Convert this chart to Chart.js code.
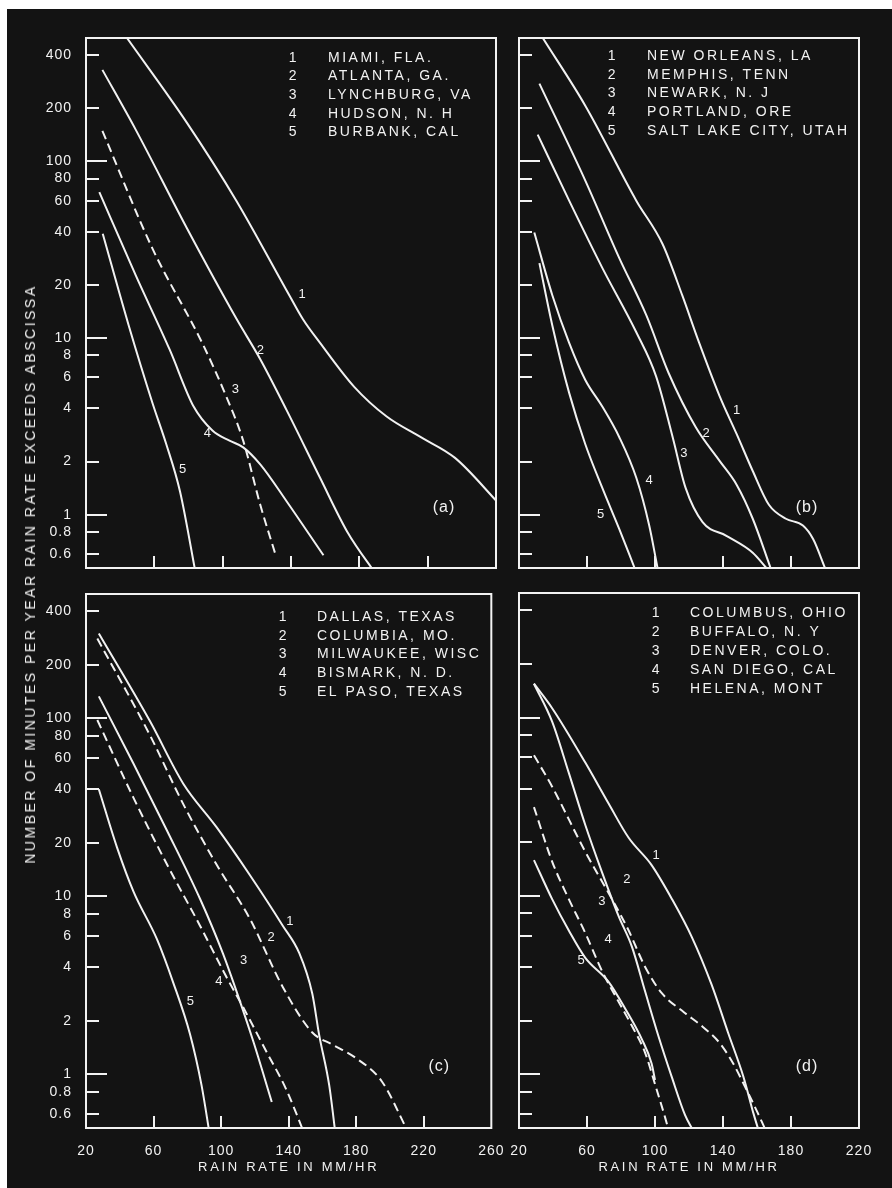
<!DOCTYPE html>
<html>
<head>
<meta charset="utf-8">
<script src="https://cdn.jsdelivr.net/npm/chart.js@4.4.0/dist/chart.umd.min.js"></script>
<style>
  html, body { margin: 0; padding: 0; background: #fff; }
  #page { position: relative; width: 892px; height: 1188px; overflow: hidden; }
  #sheet { position: absolute; left: 7px; top: 9px; right: 0; bottom: 0; background: #131313; }
  canvas { position: absolute; }
  #ytitle {
    position: absolute; left: 30px; top: 574px;
    transform: translate(-50%, -50%) rotate(-90deg);
    color: #efefef; font: 14px 'Liberation Sans', Arial, sans-serif;
    letter-spacing: 2.5px; white-space: nowrap;
  }
</style>
</head>
<body>
<div id="page">
  <div id="sheet"></div>
  <canvas id="pa" width="510" height="590" style="left:0;top:0"></canvas>
  <canvas id="pb" width="440" height="590" style="left:440px;top:0"></canvas>
  <canvas id="pc" width="510" height="628" style="left:0;top:560px"></canvas>
  <canvas id="pd" width="440" height="628" style="left:440px;top:560px"></canvas>
  <div id="ytitle">NUMBER OF MINUTES PER YEAR RAIN RATE EXCEEDS ABSCISSA</div>
</div>
<script>
// tick values (same for all four panels)
const yTicks = [0.6, 0.8, 1, 2, 4, 6, 8, 10, 20, 40, 60, 80, 100, 200, 400];
const yMajor = [1, 10, 100];
const xTicksWide = [20, 60, 100, 140, 180, 220, 260];
const xTicksNarrow = [20, 60, 100, 140, 180, 220];

// (a)
const citiesA = ['MIAMI, FLA.', 'ATLANTA, GA.', 'LYNCHBURG, VA', 'HUDSON, N. H', 'BURBANK, CAL'];
const miamiRate = [44, 79, 108, 139, 147, 157, 177, 196, 216, 236, 262];
const miamiMin = [500, 166, 60, 17.5, 12.8, 9.4, 5.3, 3.6, 2.75, 2.1, 1.15];
const atlantaRate = [29.6, 49, 79, 108, 122, 137.5, 157, 173, 190.5];
const atlantaMin = [330, 152, 42, 12.9, 7.6, 3.9, 1.62, 0.8, 0.45];
const lynchburgRate = [29.6, 59, 88, 102, 112, 122, 130.6];
const lynchburgMin = [149, 32, 9.4, 4.7, 2.63, 1.14, 0.61];
const hudsonRate = [27.8, 49, 69, 83, 94, 104, 112, 122, 137.5, 159];
const hudsonMin = [67, 22.8, 8.6, 4.1, 3.0, 2.63, 2.41, 1.93, 1.19, 0.59];
const burbankRate = [29.8, 45, 59, 67, 75, 84.5];
const burbankMin = [39, 11.8, 4.27, 2.51, 1.36, 0.45];

// (b)
const citiesB = ['NEW ORLEANS, LA', 'MEMPHIS, TENN', 'NEWARK, N. J', 'PORTLAND, ORE', 'SALT LAKE CITY, UTAH'];
const newOrleansRate = [34, 59, 89, 104.5, 116, 126, 138, 148, 157.5, 167, 177, 187, 193, 200];
const newOrleansMin = [500, 207, 60, 34, 17.5, 9.4, 4.7, 2.87, 1.77, 1.14, 0.95, 0.87, 0.73, 0.5];
const memphisRate = [32, 59, 79, 95, 108, 124, 138, 148, 157.5, 168];
const memphisMin = [276, 78, 28.4, 13.4, 6.35, 3.13, 2.02, 1.48, 0.95, 0.5];
const newarkRate = [31, 49.5, 69, 89, 100.6, 110.4, 118, 128, 142, 157.5, 165.5];
const newarkMin = [142, 60, 25, 10.8, 6.1, 2.75, 1.42, 0.91, 0.76, 0.61, 0.5];
const portlandRate = [29, 39.6, 49.5, 59, 69, 79, 89, 96.6, 101.5];
const portlandMin = [39.6, 17.5, 9.4, 5.8, 4.1, 2.75, 1.62, 0.87, 0.5];
const saltLakeRate = [32, 39.6, 49.5, 59, 69, 79, 88];
const saltLakeMin = [26.6, 11.8, 4.9, 2.51, 1.42, 0.83, 0.5];

// (c)
const citiesC = ['DALLAS, TEXAS', 'COLUMBIA, MO.', 'MILWAUKEE, WISC', 'BISMARK, N. D.', 'EL PASO, TEXAS'];
const dallasRate = [27.6, 58, 77.6, 97.3, 117, 136.5, 146.3, 154, 158, 164, 168];
const dallasMin = [300, 96, 43, 24.5, 13.2, 6.85, 4.8, 2.84, 1.68, 0.87, 0.44];
const columbiaRate = [26.7, 58, 77.6, 97.3, 117, 136.5, 154, 166, 179.6, 195.3, 210.5];
const columbiaMin = [281, 80, 33, 15.1, 7.5, 3.1, 1.72, 1.47, 1.24, 0.91, 0.48];
const milwaukeeRate = [27.6, 48, 68, 87.5, 101, 111, 119, 130];
const milwaukeeMin = [133, 56, 23.4, 9.7, 4.8, 2.6, 1.54, 0.7];
const bismarkRate = [26.7, 48, 68, 87.5, 103, 113, 126.7, 138.4, 149.5];
const bismarkMin = [98, 36, 15.1, 6.85, 3.55, 2.39, 1.35, 0.83, 0.46];
const elPasoRate = [27.6, 38.4, 48.2, 62, 71.8, 81.6, 88.4, 93.4];
const elPasoMin = [40, 18.8, 10.6, 5.75, 3.25, 1.68, 0.87, 0.45];

// (d)
const citiesD = ['COLUMBUS, OHIO', 'BUFFALO, N. Y', 'DENVER, COLO.', 'SAN DIEGO, CAL', 'HELENA, MONT'];
const columbusRate = [28.8, 39.5, 59, 72.7, 84.5, 98, 110, 121.6, 133.3, 143, 152, 158, 160.5];
const columbusMin = [155, 113, 56, 33, 21.2, 14.9, 9.6, 5.9, 3.18, 1.71, 0.97, 0.6, 0.5];
const buffaloRate = [28.8, 39.5, 49.3, 59, 68.8, 78.6, 86.4, 94.2, 102, 109.8, 117.7, 121.6];
const buffaloMin = [155, 95, 49, 25, 13.6, 7.7, 5.2, 2.91, 1.64, 0.97, 0.59, 0.5];
const denverRate = [28.8, 39.5, 59, 74.7, 84.5, 94.2, 104, 117, 128, 138, 146, 153, 160, 164.5];
const denverMin = [61.5, 41, 17.7, 9.6, 6.4, 4.0, 2.85, 2.23, 1.85, 1.5, 1.15, 0.85, 0.62, 0.5];
const sanDiegoRate = [28.8, 39.5, 49.3, 59, 68.8, 78.6, 86.4, 94.2, 100, 106, 109];
const sanDiegoMin = [31.5, 15.6, 9.6, 6.2, 3.8, 2.55, 1.87, 1.32, 0.88, 0.57, 0.45];
const helenaRate = [28.8, 39.5, 49.3, 59, 72.7, 82.5, 92.3, 98, 100];
const helenaMin = [15.9, 9.6, 6.4, 4.5, 3.3, 2.33, 1.57, 1.15, 0.93];

// curve numbers, placed in data units
const marksA = [[146.5, 17.6, '1'], [122, 8.5, '2'], [107.5, 5.1, '3'], [91, 2.9, '4'], [76.6, 1.8, '5']];
const marksB = [[148, 3.9, '1'], [130, 2.9, '2'], [117, 2.24, '3'], [96.5, 1.56, '4'], [68, 1.0, '5']];
const marksC = [[140.7, 7.2, '1'], [129.6, 5.9, '2'], [113.3, 4.36, '3'], [98.7, 3.32, '4'], [81.8, 2.57, '5']];
const marksD = [[100.6, 16.9, '1'], [83.5, 12.4, '2'], [68.8, 9.3, '3'], [72.4, 5.7, '4'], [56.5, 4.36, '5']];

const FONT = "'Liberation Sans', Arial, sans-serif";
const INK = '#f2f2f2';

function line(rate, minutes, dashed) {
  return {
    data: rate.map((r, i) => ({x: r, y: minutes[i]})),
    borderColor: INK,
    borderWidth: 2,
    borderDash: dashed ? [9, 5] : [],
    pointRadius: 0,
    fill: false,
    cubicInterpolationMode: 'monotone'
  };
}

const panelDecor = {
  id: 'panelDecor',
  beforeDraw(chart) {
    chart.ctx.letterSpacing = '1px';
  },
  afterDraw(chart, args, o) {
    const {ctx, chartArea: a, scales: {x, y}} = chart;
    ctx.save();
    ctx.strokeStyle = INK;
    ctx.lineWidth = 2;
    ctx.setLineDash([]);
    ctx.strokeRect(a.left, a.top, a.right - a.left, a.bottom - a.top);

    // inward tick marks
    ctx.beginPath();
    yTicks.forEach(v => {
      const py = Math.round(y.getPixelForValue(v));
      const len = yMajor.includes(v) ? 21 : 13;
      ctx.moveTo(a.left, py);
      ctx.lineTo(a.left + len, py);
    });
    x.ticks.forEach(t => {
      if (t.value > x.min && t.value < x.max) {
        const px = Math.round(x.getPixelForValue(t.value));
        ctx.moveTo(px, a.bottom);
        ctx.lineTo(px, a.bottom - 12);
      }
    });
    ctx.stroke();

    ctx.fillStyle = INK;
    ctx.textBaseline = 'middle';

    // key
    ctx.font = '14px ' + FONT;
    ctx.letterSpacing = '2.5px';
    o.names.forEach((name, i) => {
      const py = a.top + o.keyTop + i * o.keyStep;
      ctx.textAlign = 'center';
      ctx.fillText(String(i + 1), a.left + o.numX, py);
      ctx.textAlign = 'left';
      ctx.fillText(name, a.left + o.nameX, py);
    });

    // curve numbers
    ctx.font = '13px ' + FONT;
    ctx.letterSpacing = '0px';
    ctx.textAlign = 'center';
    o.marks.forEach(([r, v, s]) => {
      ctx.fillText(s, x.getPixelForValue(r), y.getPixelForValue(v));
    });

    // panel tag
    ctx.font = '16px ' + FONT;
    ctx.letterSpacing = '1px';
    ctx.fillText(o.tag, a.right - 52, y.getPixelForValue(1.1));

    // x axis title
    if (o.xTitle) {
      ctx.font = '13px ' + FONT;
      ctx.letterSpacing = '2.7px';
      ctx.fillText(o.xTitle, (a.left + a.right) / 2, a.bottom + 39);
    }
    ctx.restore();
  }
};

function makePanel(id, cfg) {
  const ctx = document.getElementById(id).getContext('2d');
  return new Chart(ctx, {
    type: 'line',
    data: { datasets: cfg.series },
    plugins: [panelDecor],
    options: {
      responsive: false,
      animation: false,
      devicePixelRatio: 1,
      layout: { padding: { top: cfg.padTop, right: cfg.padRight, left: 0, bottom: 0 } },
      plugins: {
        legend: { display: false },
        tooltip: { enabled: false },
        panelDecor: {
          names: cfg.names, marks: cfg.marks, tag: cfg.tag, xTitle: cfg.xTitle,
          numX: cfg.numX, nameX: cfg.nameX, keyTop: cfg.keyTop, keyStep: cfg.keyStep
        }
      },
      scales: {
        x: {
          type: 'linear',
          min: 20,
          max: cfg.xTicks[cfg.xTicks.length - 1],
          afterBuildTicks: s => { s.ticks = cfg.xTicks.map(v => ({value: v})); },
          afterFit: s => { s.height = cfg.xHeight; },
          grid: { display: false },
          border: { display: false },
          ticks: {
            display: cfg.xLabels, color: INK, padding: 7, maxRotation: 0, autoSkip: false,
            font: { size: 14, family: FONT },
            callback: v => String(v)
          }
        },
        y: {
          type: 'logarithmic',
          min: 0.5,
          max: 500,
          afterBuildTicks: s => { s.ticks = yTicks.map(v => ({value: v})); },
          afterFit: s => { s.width = cfg.yWidth; },
          grid: { display: false },
          border: { display: false },
          ticks: {
            display: cfg.yLabels, color: INK, padding: 6, autoSkip: false,
            font: { size: 14, family: FONT },
            callback: v => String(v)
          }
        }
      }
    }
  });
}

makePanel('pa', {
  series: [
    line(miamiRate, miamiMin), line(atlantaRate, atlantaMin), line(lynchburgRate, lynchburgMin, true),
    line(hudsonRate, hudsonMin), line(burbankRate, burbankMin)
  ],
  names: citiesA, marks: marksA, tag: '(a)',
  xTicks: xTicksWide, xLabels: false, yLabels: true,
  padTop: 38, padRight: 14, yWidth: 86, xHeight: 22,
  numX: 208, nameX: 242, keyTop: 20, keyStep: 18.6
});

makePanel('pb', {
  series: [
    line(newOrleansRate, newOrleansMin), line(memphisRate, memphisMin), line(newarkRate, newarkMin),
    line(portlandRate, portlandMin), line(saltLakeRate, saltLakeMin)
  ],
  names: citiesB, marks: marksB, tag: '(b)',
  xTicks: xTicksNarrow, xLabels: false, yLabels: false,
  padTop: 38, padRight: 21, yWidth: 79, xHeight: 22,
  numX: 94, nameX: 128, keyTop: 18, keyStep: 18.7
});

makePanel('pc', {
  series: [
    line(dallasRate, dallasMin), line(columbiaRate, columbiaMin, true), line(milwaukeeRate, milwaukeeMin),
    line(bismarkRate, bismarkMin, true), line(elPasoRate, elPasoMin)
  ],
  names: citiesC, marks: marksC, tag: '(c)', xTitle: 'RAIN RATE IN MM/HR',
  xTicks: xTicksWide, xLabels: true, yLabels: true,
  padTop: 34, padRight: 14, yWidth: 86, xHeight: 60,
  numX: 198, nameX: 231, keyTop: 23, keyStep: 18.8
});

makePanel('pd', {
  series: [
    line(columbusRate, columbusMin), line(buffaloRate, buffaloMin), line(denverRate, denverMin, true),
    line(sanDiegoRate, sanDiegoMin, true), line(helenaRate, helenaMin)
  ],
  names: citiesD, marks: marksD, tag: '(d)', xTitle: 'RAIN RATE IN MM/HR',
  xTicks: xTicksNarrow, xLabels: true, yLabels: false,
  padTop: 33, padRight: 21, yWidth: 79, xHeight: 60,
  numX: 138, nameX: 171, keyTop: 20, keyStep: 19
});
</script>
</body>
</html>
